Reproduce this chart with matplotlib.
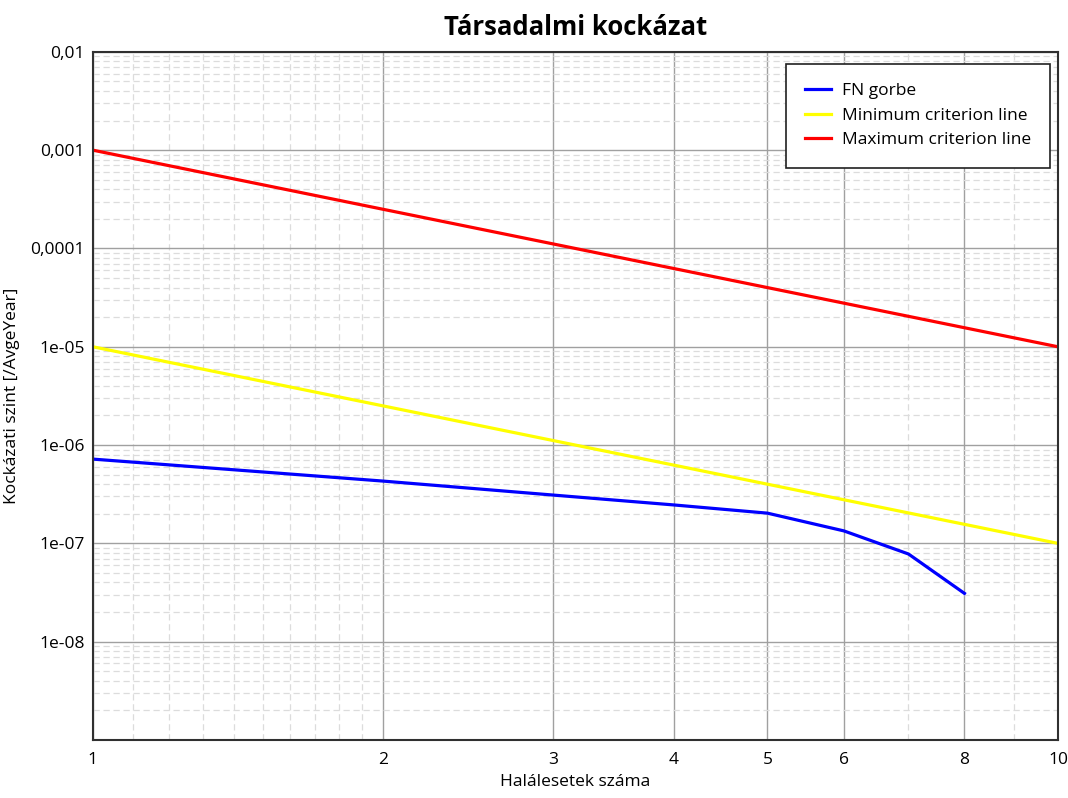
import matplotlib
matplotlib.use('Agg')
import matplotlib.pyplot as plt
from matplotlib.ticker import FixedLocator, FixedFormatter, NullFormatter

plt.rcParams['font.family'] = ['Open Sans', 'DejaVu Sans']

# data
n_fn = [1, 2, 3, 4, 5, 6, 7, 8]
f_fn = [7.2e-7, 4.3e-7, 3.1e-7, 2.46e-7, 2.03e-7, 1.34e-7, 7.8e-8, 3.1e-8]
n_crit = [1, 10]
f_min = [1e-5, 1e-7]
f_max = [1e-3, 1e-5]

x_ticks = [1, 2, 3, 4, 5, 6, 8, 10]
x_labels = ['1', '2', '3', '4', '5', '6', '8', '10']
x_minor = [1.1, 1.2, 1.3, 1.4, 1.5, 1.6, 1.7, 1.8, 1.9, 7, 9]
y_ticks = [1e-2, 1e-3, 1e-4, 1e-5, 1e-6, 1e-7, 1e-8, 1e-9]
y_labels = ['0,01', '0,001', '0,0001', '1e-05', '1e-06', '1e-07', '1e-08', '']

fig = plt.figure(figsize=(10.68, 7.98), dpi=100)
ax = fig.add_axes([0.087, 0.0727, 0.9036, 0.8623])

ax.plot(n_fn, f_fn, color='#0000ff', lw=2.3, label='FN gorbe')
ax.plot(n_crit, f_min, color='#ffff00', lw=2.3, label='Minimum criterion line')
ax.plot(n_crit, f_max, color='#ff0000', lw=2.3, label='Maximum criterion line')

ax.set_xscale('log')
ax.set_yscale('log')
ax.set_xlim(1, 10)
ax.set_ylim(1e-9, 1e-2)

ax.xaxis.set_major_locator(FixedLocator(x_ticks))
ax.xaxis.set_major_formatter(FixedFormatter(x_labels))
ax.xaxis.set_minor_locator(FixedLocator(x_minor))
ax.xaxis.set_minor_formatter(NullFormatter())
ax.yaxis.set_major_locator(FixedLocator(y_ticks))
ax.yaxis.set_major_formatter(FixedFormatter(y_labels))
minor_y = [m * 10.0 ** e for e in range(-9, -2) for m in range(2, 10)]
ax.yaxis.set_minor_locator(FixedLocator(minor_y))
ax.yaxis.set_minor_formatter(NullFormatter())

ax.grid(which='major', color='#a0a0a0', lw=1.0, ls='-')
ax.grid(which='minor', color='#dcdcdc', lw=0.9, ls=(0, (5, 3)))
ax.set_axisbelow(True)
ax.tick_params(which='both', length=0)
ax.tick_params(axis='x', pad=9, labelsize=12.5)
ax.tick_params(axis='y', pad=6, labelsize=12.5)

for s in ax.spines.values():
    s.set_color('#303030')
    s.set_linewidth(1.5)

ax.set_title('Társadalmi kockázat', fontsize=18.5, fontweight='bold', pad=12)
ax.set_xlabel('Halálesetek száma', fontsize=12.5, labelpad=4)
ax.set_ylabel('Kockázati szint [/AvgeYear]', fontsize=12.5, labelpad=7)

leg = ax.legend(loc='upper right', bbox_to_anchor=(0.9915, 0.983), fontsize=12.5,
                frameon=True, fancybox=False, borderpad=1.1, handlelength=1.5,
                handletextpad=0.6, labelspacing=0.5, borderaxespad=0)
leg.get_frame().set_edgecolor('#202020')
leg.get_frame().set_linewidth(1.2)
leg.get_frame().set_alpha(1)

fig.savefig('out.png', dpi=100)
